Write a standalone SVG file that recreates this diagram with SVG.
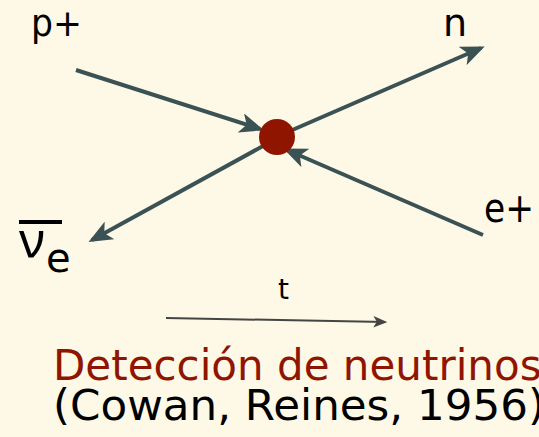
<svg xmlns="http://www.w3.org/2000/svg" width="539" height="437" viewBox="0 0 539 437">
<defs>
<style>
.ln{stroke:#3b5254;stroke-width:4;fill:none}
.lbl{font-family:"DejaVu Sans",Verdana,sans-serif;fill:#000}
</style>
<marker id="ah" viewBox="0 0 12 10" refX="10" refY="5" markerWidth="6" markerHeight="5" orient="auto" markerUnits="strokeWidth">
<path d="M0,0 L12,5 L0,10 L3,5 Z" fill="#3b5254"/>
</marker>
<marker id="ah2" viewBox="0 0 12 10" refX="10" refY="5" markerWidth="7" markerHeight="6" orient="auto" markerUnits="strokeWidth">
<path d="M0,0 L12,5 L0,10 L3,5 Z" fill="#444"/>
</marker>
</defs>
<rect width="539" height="437" fill="#fef8e7"/>
<g id="connectors">
<line class="ln" x1="76" y1="70" x2="260" y2="129" marker-end="url(#ah)"/>
<line class="ln" x1="290" y1="131" x2="481" y2="48" marker-end="url(#ah)"/>
<line class="ln" x1="263" y1="146" x2="92" y2="240" marker-end="url(#ah)"/>
<line class="ln" x1="483" y1="235" x2="287" y2="150" marker-end="url(#ah)"/>
<line x1="166" y1="318" x2="385" y2="322" stroke="#444" stroke-width="2" marker-end="url(#ah2)"/>
</g>
<g id="vertex"><circle cx="277" cy="137" r="18" fill="#8f1500"/></g>
<g id="p"><text class="lbl" x="31" y="36" font-size="38" textLength="51" lengthAdjust="spacingAndGlyphs">p+</text></g>
<g id="n"><text class="lbl" x="443" y="36" font-size="38">n</text></g>
<g id="e"><text class="lbl" x="484" y="222" font-size="40" textLength="50" lengthAdjust="spacingAndGlyphs">e+</text></g>
<g id="nu">
<line x1="19" y1="222" x2="62" y2="222" stroke="#000" stroke-width="4"/>
<text x="19" y="258" font-size="50" font-family="'Noto Sans',sans-serif">ν</text>
<text class="lbl" x="46" y="272" font-size="40">e</text>
</g>
<g id="t"><text class="lbl" x="278" y="299" font-size="28">t</text></g>
<g id="caption">
<text class="lbl" x="53" y="380" font-size="42" style="fill:#8f1500">Detección de neutrinos</text>
<text class="lbl" x="53" y="420" font-size="42" textLength="492" lengthAdjust="spacingAndGlyphs">(Cowan, Reines, 1956)</text>
</g>
</svg>
